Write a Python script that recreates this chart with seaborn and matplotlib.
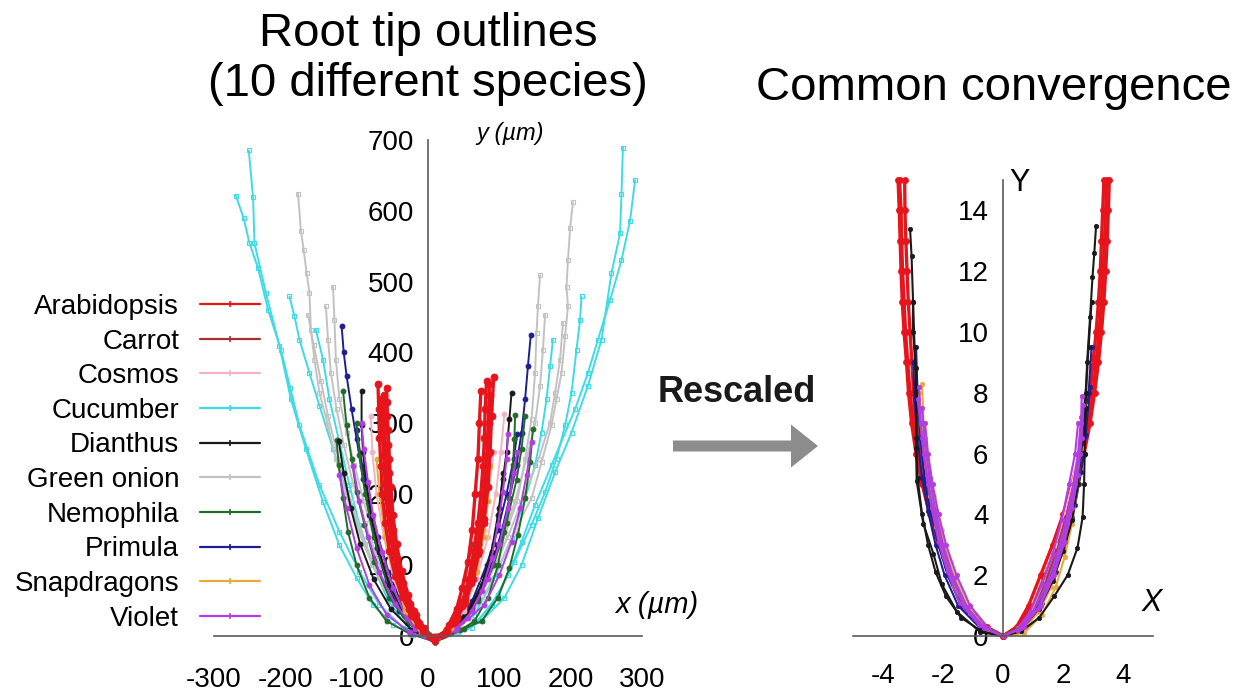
import numpy as np
import pandas as pd
import matplotlib
matplotlib.use("Agg")
import matplotlib.pyplot as plt
from matplotlib.lines import Line2D
from matplotlib.patches import FancyArrow
import seaborn as sns

sns.set_style("white")
plt.rcParams["font.family"] = ["Liberation Sans", "DejaVu Sans"]
plt.rcParams["axes.unicode_minus"] = False
plt.rcParams["text.color"] = "black"
plt.rcParams["xtick.labelcolor"] = "black"
plt.rcParams["ytick.labelcolor"] = "black"

# ---------------- data ----------------
species = ["Arabidopsis", "Carrot", "Cosmos", "Cucumber", "Dianthus",
           "Green onion", "Nemophila", "Primula", "Snapdragons", "Violet"]
colors = ["#e8141c", "#a3322f", "#f2b4c4", "#3fdbe4", "#1a1a1a",
          "#c2c2c2", "#236b2a", "#1f1f8f", "#e8a83a", "#b23ee0"]

x_ticks_um = [-300, -200, -100, 0, 100, 200, 300]
y_ticks_um = [0, 100, 200, 300, 400, 500, 600, 700]
x_ticks_scaled = [-4, -2, 0, 2, 4]
y_ticks_scaled = [0, 2, 4, 6, 8, 10, 12, 14]

# Root tip outlines in micrometres (each outline: left top -> tip -> right top)
arabidopsis_x = [
    [-70, -69, -68, -66, -64, -60, -54, -46, -36, -23, -7, 10, 25, 38, 48, 57, 64, 70, 74, 77, 79, 80, 82],
    [-58, -57, -56, -55, -53, -49, -43, -35, -25, -12, 5, 22, 35, 48, 60, 70, 78, 84, 87, 89, 92],
    [-62, -61, -60, -58, -55, -50, -43, -33, -20, -6, 8, 24, 38, 52, 63, 72, 78, 82, 84, 86, 87],
    [-66, -64, -62, -60, -57, -52, -45, -36, -26, -14, 2, 20, 30, 40, 48, 56, 62, 66, 70, 72, 74],
    [-58, -56, -54, -52, -49, -44, -37, -28, -17, -5, 8, 26, 40, 52, 62, 70, 76, 80, 83, 85, 86],
]
arabidopsis_y = [
    [355, 320, 280, 240, 200, 160, 120, 85, 55, 28, 8, -5, 5, 22, 48, 80, 120, 160, 200, 240, 280, 320, 360],
    [350, 310, 270, 230, 190, 150, 110, 75, 45, 18, -3, 3, 18, 42, 75, 115, 160, 210, 260, 310, 365],
    [340, 300, 260, 220, 180, 140, 100, 65, 35, 12, -4, 4, 20, 46, 80, 120, 165, 210, 255, 300, 340],
    [335, 295, 255, 215, 175, 135, 98, 65, 38, 16, 0, 2, 16, 38, 68, 105, 150, 200, 250, 300, 345],
    [330, 290, 250, 210, 170, 130, 92, 58, 30, 10, -2, 6, 25, 52, 88, 130, 175, 220, 270, 320, 355],
]
carrot_x = [
    [-55, -48, -38, -25, -8, 10, 28, 42, 60, 72, 80],
    [-45, -38, -28, -15, 10, 25, 40, 52, 62],
]
carrot_y = [
    [170, 120, 70, 30, 5, -8, 8, 30, 75, 130, 190],
    [130, 90, 50, 18, -8, 10, 40, 80, 130],
]
cosmos_x = [
    [-80, -78, -72, -62, -48, -28, -5, 10, 30, 50, 68, 84, 95, 102, 107],
    [-66, -62, -55, -44, -30, -12, 10, 30, 50, 66, 78, 86, 92],
]
cosmos_y = [
    [310, 260, 200, 140, 80, 30, 3, -8, 8, 35, 80, 140, 200, 260, 313],
    [280, 220, 160, 100, 50, 12, -8, 8, 40, 95, 150, 210, 260],
]
cucumber_x = [
    [-251, -245, -243, -227, -208, -192, -171, -147, -124, -100, -77, -49, -21, 10, 42, 75, 107, 131, 154, 178, 201, 224, 243, 257, 269, 271, 273],
    [-269, -258, -250, -238, -224, -206, -193, -180, -152, -124, -96, -68, -35, 10, 61, 89, 112, 131, 150, 173, 206, 224, 238, 255, 271, 283, 290],
    [-194, -187, -180, -166, -152, -133, -114, -96, -77, -54, -26, 10, 70, 98, 121, 145, 164, 180, 192, 201, 208, 213, 215],
    [-157, -147, -138, -124, -110, -96, -77, -56, -30, 10, 65, 93, 117, 136, 150, 159, 166, 171, 175],
]
cucumber_y = [
    [685, 619, 554, 484, 409, 334, 264, 189, 128, 82, 44, 16, 2, -8, 5, 21, 54, 100, 166, 231, 287, 353, 418, 512, 568, 624, 689],
    [621, 589, 554, 519, 460, 404, 350, 297, 213, 147, 91, 44, 12, -8, 12, 44, 86, 133, 185, 241, 320, 371, 418, 474, 530, 586, 643],
    [479, 451, 418, 371, 325, 264, 203, 147, 100, 54, 16, -8, 21, 58, 105, 157, 203, 250, 297, 343, 404, 446, 479],
    [432, 390, 334, 273, 213, 157, 100, 50, 15, -8, 30, 82, 138, 194, 241, 287, 334, 381, 418],
]
dianthus_x = [
    [-93, -93, -91, -86, -79, -68, -54, -35, -12, 10, 33, 56, 75, 89, 98, 105, 110, 114, 117],
    [-125, -118, -108, -95, -76, -52, -22, 10, 38, 62, 80, 92, 100, 105],
]
dianthus_y = [
    [346, 297, 259, 213, 166, 119, 72, 35, 8, -8, 9, 35, 72, 119, 171, 222, 259, 306, 343],
    [275, 230, 180, 130, 80, 38, 8, -8, 10, 40, 85, 130, 180, 230],
]
green_onion_x = [
    [-182, -178, -174, -170, -166, -164, -159, -152, -140, -129, -115, -98, -78, -55, -28, 10, 45, 75, 100, 122, 145, 159, 173, 180, 187, 192, 196, 194, 196, 199, 203],
    [-133, -131, -129, -124, -114, -103, -90, -75, -55, -32, 10, 50, 80, 105, 125, 136, 145, 150, 152, 154, 157],
    [-143, -140, -136, -128, -118, -105, -88, -68, -45, -20, 10, 48, 78, 102, 122, 138, 150, 157, 161, 164],
    [-168, -160, -150, -140, -125, -108, -88, -62, -32, 10, 52, 85, 112, 135, 155, 171, 178, 185, 189],
]
green_onion_y = [
    [624, 572, 544, 512, 484, 432, 390, 343, 297, 250, 200, 150, 100, 55, 18, -8, 15, 50, 100, 150, 194, 245, 297, 334, 371, 423, 465, 493, 530, 575, 612],
    [493, 446, 390, 334, 287, 241, 190, 135, 80, 35, -8, 30, 80, 135, 190, 250, 306, 371, 428, 465, 509],
    [465, 418, 371, 320, 270, 215, 160, 100, 50, 12, -8, 25, 75, 130, 190, 250, 300, 353, 404, 453],
    [453, 410, 360, 310, 250, 190, 130, 70, 25, -8, 25, 80, 140, 200, 250, 301, 343, 390, 442],
]
nemophila_x = [
    [-128, -125, -119, -112, -100, -82, -58, -25, 10, 45, 65, 84, 98, 107, 114, 119, 121, 122],
    [-119, -114, -107, -100, -89, -75, -54, -28, 10, 50, 75, 98, 114, 126, 136, 143, 147],
    [-100, -96, -88, -76, -58, -34, 10, 40, 70, 92, 110, 124, 131, 136],
]
nemophila_y = [
    [276, 241, 194, 147, 100, 54, 21, 3, -8, 8, 21, 54, 100, 147, 194, 241, 278, 312],
    [346, 297, 250, 203, 157, 105, 54, 18, -8, 10, 21, 54, 96, 143, 194, 245, 292],
    [300, 255, 200, 140, 80, 30, -8, 12, 50, 100, 160, 220, 264, 311],
]
primula_x = [
    [-121, -118, -114, -107, -100, -91, -82, -72, -58, -40, -15, 10, 47, 70, 89, 103, 114, 124, 131, 136, 140, 144],
    [-100, -92, -82, -70, -55, -36, -12, 10, 40, 62, 82, 98, 110, 120, 125],
]
primula_y = [
    [438, 400, 367, 320, 278, 222, 171, 124, 77, 35, 8, -8, 21, 54, 100, 147, 194, 241, 287, 334, 381, 425],
    [290, 240, 190, 140, 90, 45, 10, -8, 15, 50, 100, 150, 200, 250, 285],
]
snapdragons_x = [
    [-72, -68, -60, -48, -32, -10, 10, 32, 52, 68, 78, 84, 87],
    [-60, -55, -48, -38, -24, -5, 10, 28, 45, 60, 70, 76, 80],
]
snapdragons_y = [
    [250, 200, 140, 85, 35, 5, -8, 12, 45, 90, 140, 190, 240],
    [230, 180, 130, 80, 35, 5, -8, 8, 40, 90, 140, 190, 235],
]
violet_x = [
    [-93, -90, -84, -77, -65, -49, -30, -8, 10, 30, 56, 75, 89, 98, 105, 110, 112],
    [-124, -114, -100, -82, -58, -25, 10, 40, 79, 100, 117, 129, 138, 145],
    [-105, -96, -84, -68, -46, -18, 10, 38, 62, 84, 100, 112, 120, 125],
]
violet_y = [
    [301, 264, 217, 171, 119, 68, 26, 4, -8, 5, 26, 63, 110, 157, 203, 250, 285],
    [227, 180, 124, 72, 30, 5, -8, 10, 44, 86, 133, 180, 227, 273],
    [240, 190, 140, 90, 45, 10, -8, 8, 35, 80, 130, 180, 230, 260],
]

# Rescaled outlines (dimensionless X, Y)
arabidopsis_X = [
    [-3.45, -3.40, -3.38, -3.35, -3.30, -3.25, -3.18, -3.10, -3.00, -2.85, -2.65, -2.40, -2.10, -1.70, -1.20, -0.60, 0, 0.50, 1.00, 1.40, 1.80, 2.10, 2.40, 2.65, 2.85, 3.00, 3.10, 3.20, 3.28, 3.33, 3.38, 3.42, 3.45],
    [-3.28, -3.27, -3.24, -3.20, -3.16, -3.10, -3.04, -2.98, -2.92, -2.78, -2.58, -2.35, -2.05, -1.65, -1.15, -0.55, 0, 0.45, 0.85, 1.25, 1.65, 2.00, 2.30, 2.55, 2.75, 2.90, 3.00, 3.10, 3.18, 3.24, 3.28, 3.32, 3.36],
    [-3.50, -3.46, -3.43, -3.40, -3.36, -3.30, -3.22, -3.15, -3.05, -2.90, -2.70, -2.45, -2.15, -1.75, -1.25, -0.62, 0, 0.55, 1.05, 1.50, 1.90, 2.20, 2.48, 2.70, 2.90, 3.05, 3.18, 3.28, 3.36, 3.42, 3.47, 3.51, 3.54],
]
arabidopsis_Y = [
    [15.0, 14, 13, 12, 11, 10, 9, 8, 7, 6, 5, 4, 3, 2, 1, 0.3, 0, 0.3, 1, 2, 3, 4, 5, 6, 7, 8, 9, 10, 11, 12, 13, 14, 15.0],
    [15.0, 14, 13, 12, 11, 10, 9, 8, 7, 6, 5, 4, 3, 2, 1, 0.3, 0, 0.3, 1, 2, 3, 4, 5, 6, 7, 8, 9, 10, 11, 12, 13, 14, 15.0],
    [15.0, 14, 13, 12, 11, 10, 9, 8, 7, 6, 5, 4, 3, 2, 1, 0.3, 0, 0.3, 1, 2, 3, 4, 5, 6, 7, 8, 9, 10, 11, 12, 13, 14, 15.0],
]
carrot_X = [[-2.9, -2.75, -2.55, -2.3, -2.0, -1.65, -1.15, -0.55, 0, 0.5, 1.0, 1.4, 1.8, 2.1, 2.35, 2.55, 2.65]]
carrot_Y = [[7.5, 6, 4.8, 3.7, 2.6, 1.7, 0.8, 0.2, 0, 0.2, 0.8, 1.7, 2.8, 3.9, 5, 6.2, 7.5]]
cosmos_X = [[-3.0, -2.9, -2.75, -2.55, -2.3, -2.0, -1.6, -1.1, -0.5, 0, 0.5, 1.0, 1.35, 1.75, 2.05, 2.3, 2.5, 2.7, 2.85]]
cosmos_Y = [[9.0, 7.5, 6, 4.8, 3.7, 2.6, 1.6, 0.8, 0.2, 0, 0.2, 0.9, 1.8, 3, 4, 5, 6, 7.5, 9.0]]
cucumber_X = [[-2.6, -2.45, -2.25, -2.0, -1.7, -1.25, -0.6, 0, 0.5, 1.0, 1.45, 1.85, 2.15, 2.4, 2.6]]
cucumber_Y = [[6.5, 5.0, 4, 3, 2, 1, 0.25, 0, 0.25, 0.8, 1.8, 3, 4, 5, 6.3]]
dianthus_X = [
    [-3.1, -3.05, -3.0, -3.0, -2.9, -2.88, -2.9, -2.88, -2.66, -2.32, -2.04, -1.54, -0.76, 0, 0.6, 1.2, 1.7, 2.15, 2.48, 2.65, 2.7, 2.72, 2.75, 2.8, 2.9, 2.98, 3.04, 3.1],
    [-3.0, -2.95, -2.9, -2.9, -2.85, -2.7, -2.5, -2.25, -1.9, -1.4, -0.7, 0, 0.6, 1.2, 1.65, 2.0, 2.3, 2.5, 2.65, 2.75, 2.85, 2.95],
]
dianthus_Y = [
    [13.4, 12.5, 11, 10, 8.8, 7.5, 6.2, 5.1, 3.7, 2.7, 1.7, 0.8, 0.13, 0, 0.15, 0.6, 1.3, 2.0, 2.9, 3.9, 5, 6, 7.5, 9, 10.5, 11.8, 12.6, 13.5],
    [11.0, 9.5, 8, 6.5, 5.2, 4.0, 3.0, 2.1, 1.3, 0.6, 0.15, 0, 0.2, 0.9, 1.8, 2.8, 3.8, 5, 6.5, 8, 9.5, 11.0],
]
green_onion_X = [[-2.75, -2.5, -2.3, -2.05, -1.75, -1.35, -0.9, -0.4, 0, 0.4, 0.9, 1.35, 1.75, 2.1, 2.4, 2.6]]
green_onion_Y = [[7.0, 5.5, 4.6, 3.5, 2.4, 1.4, 0.6, 0.15, 0, 0.1, 0.5, 1.3, 2.4, 3.6, 5, 6.5]]
nemophila_X = [
    [-2.75, -2.65, -2.5, -2.3, -2.05, -1.75, -1.3, -0.65, 0, 0.55, 1.1, 1.5, 1.9, 2.2, 2.45, 2.6, 2.7],
    [-2.85, -2.75, -2.6, -2.42, -2.2, -1.9, -1.5, -0.9, 0, 0.65, 1.2, 1.65, 2.0, 2.3, 2.52, 2.66, 2.75],
]
nemophila_Y = [
    [7.5, 6.2, 5, 4, 3, 2, 1, 0.25, 0, 0.25, 0.9, 1.8, 3, 4, 5, 6.2, 7.5],
    [7.6, 6.5, 5.3, 4.3, 3.3, 2.3, 1.3, 0.5, 0, 0.35, 1.0, 1.9, 2.9, 3.9, 5.0, 6.2, 7.4],
]
primula_X = [
    [-2.9, -2.85, -2.75, -2.6, -2.4, -2.15, -1.85, -1.4, -0.7, 0, 0.6, 1.2, 1.6, 1.95, 2.25, 2.5, 2.7, 2.85, 2.95],
    [-3.0, -2.95, -2.85, -2.7, -2.5, -2.25, -1.95, -1.5, -0.8, 0, 0.7, 1.3, 1.75, 2.1, 2.4, 2.6, 2.75, 2.9],
]
primula_Y = [
    [9.5, 8, 6.5, 5, 4, 3, 2, 1, 0.25, 0, 0.25, 1, 2, 3, 4, 5, 6.5, 8, 9.5],
    [9.0, 7.8, 6.5, 5.2, 4.1, 3.0, 2.0, 1.0, 0.3, 0, 0.3, 1.1, 2.1, 3.2, 4.3, 5.4, 6.6, 8.2],
]
snapdragons_X = [
    [-2.7, -2.65, -2.55, -2.4, -2.2, -1.95, -1.65, -1.2, -0.6, 0, 0.7, 1.3, 1.75, 2.05, 2.3, 2.5, 2.62, 2.7],
    [-2.8, -2.7, -2.58, -2.42, -2.22, -1.98, -1.62, -1.1, -0.5, 0, 0.6, 1.2, 1.6, 1.95, 2.25, 2.45, 2.6, 2.72],
]
snapdragons_Y = [
    [8.3, 7, 6, 5, 4, 3, 2, 1, 0.25, 0, 0.1, 0.7, 1.6, 2.6, 3.7, 5, 6.2, 7.9],
    [8.0, 6.8, 5.6, 4.6, 3.6, 2.6, 1.6, 0.75, 0.15, 0, 0.15, 0.8, 1.6, 2.7, 3.9, 5, 6.2, 7.6],
]
violet_X = [
    [-2.8, -2.75, -2.65, -2.5, -2.3, -2.05, -1.75, -1.3, -0.65, 0, 0.6, 1.15, 1.6, 1.95, 2.2, 2.4, 2.55, 2.6, 2.62],
    [-2.7, -2.6, -2.45, -2.25, -2.0, -1.65, -1.2, -0.6, 0, 0.5, 1.0, 1.45, 1.8, 2.1, 2.35, 2.5, 2.6],
    [-2.85, -2.7, -2.55, -2.38, -2.15, -1.85, -1.45, -0.8, 0, 0.7, 1.25, 1.7, 2.05, 2.3, 2.5, 2.62, 2.68],
    [-2.6, -2.5, -2.35, -2.15, -1.9, -1.55, -1.1, -0.5, 0, 0.45, 0.9, 1.3, 1.65, 1.95, 2.2, 2.4, 2.5],
]
violet_Y = [
    [8.2, 7, 6, 5, 4, 3, 2, 1, 0.25, 0, 0.25, 0.9, 1.9, 3, 4, 5, 6, 7, 7.9],
    [7.5, 6.3, 5.2, 4.1, 3, 1.9, 0.95, 0.25, 0, 0.2, 0.8, 1.7, 2.7, 3.8, 5, 6, 7.2],
    [7.8, 6.5, 5.3, 4.2, 3.1, 2.1, 1.1, 0.35, 0, 0.3, 1.0, 2.0, 3.1, 4.2, 5.3, 6.5, 7.6],
    [7.0, 6.0, 5.0, 4.0, 3.0, 2.0, 1.0, 0.25, 0, 0.2, 0.8, 1.7, 2.7, 3.8, 5, 6, 7.0],
]

raw = {
    "Arabidopsis": (arabidopsis_x, arabidopsis_y, arabidopsis_X, arabidopsis_Y),
    "Carrot": (carrot_x, carrot_y, carrot_X, carrot_Y),
    "Cosmos": (cosmos_x, cosmos_y, cosmos_X, cosmos_Y),
    "Cucumber": (cucumber_x, cucumber_y, cucumber_X, cucumber_Y),
    "Dianthus": (dianthus_x, dianthus_y, dianthus_X, dianthus_Y),
    "Green onion": (green_onion_x, green_onion_y, green_onion_X, green_onion_Y),
    "Nemophila": (nemophila_x, nemophila_y, nemophila_X, nemophila_Y),
    "Primula": (primula_x, primula_y, primula_X, primula_Y),
    "Snapdragons": (snapdragons_x, snapdragons_y, snapdragons_X, snapdragons_Y),
    "Violet": (violet_x, violet_y, violet_X, violet_Y),
}


def long_table(which):
    rows = []
    for sp, data in raw.items():
        xs, ys = (data[0], data[1]) if which == "um" else (data[2], data[3])
        for k, (xx, yy) in enumerate(zip(xs, ys)):
            for i, (a, b) in enumerate(zip(xx, yy)):
                rows.append((sp, f"{sp}-{k}", i, a, b))
    return pd.DataFrame(rows, columns=["species", "outline", "order", "x", "y"])


df_um = long_table("um")
df_sc = long_table("scaled")
palette = dict(zip(species, colors))

# ---------------- figure ----------------
W, H = 1254, 691
fig = plt.figure(figsize=(W / 100, H / 100), dpi=100)

bg = fig.add_axes([0, 0, 1, 1])
bg.set_xlim(0, W)
bg.set_ylim(H, 0)
bg.axis("off")

axL = fig.add_axes([0.1477, 0.0488, 0.3872, 0.7797])
axR = fig.add_axes([0.6683, 0.0356, 0.2632, 0.7479])
for ax in (axL, axR):
    ax.patch.set_alpha(0)

draw_left = ["Cucumber", "Green onion", "Primula", "Nemophila", "Dianthus",
             "Cosmos", "Violet", "Snapdragons", "Carrot", "Arabidopsis"]
draw_right = ["Arabidopsis", "Cucumber", "Green onion", "Cosmos", "Carrot",
              "Nemophila", "Primula", "Snapdragons", "Dianthus", "Violet"]

hollow = {"Green onion", "Cucumber"}

for sp in draw_left:
    sub = df_um[df_um.species == sp]
    c = palette[sp]
    lw = 2.4 if sp == "Arabidopsis" else 1.4
    ms = 4.8 if sp == "Arabidopsis" else 3.4
    mk = "s" if sp in hollow else "o"
    sns.lineplot(data=sub, x="x", y="y", units="outline", estimator=None,
                 sort=False, color=c, lw=lw, marker=mk, ms=ms,
                 markeredgecolor=c, markeredgewidth=0.8,
                 markerfacecolor=("none" if sp in hollow else c),
                 ax=axL, legend=False)

for sp in draw_right:
    sub = df_sc[df_sc.species == sp]
    c = palette[sp]
    lw = 2.4 if sp == "Arabidopsis" else 1.5
    ms = 4.4 if sp == "Arabidopsis" else 3.2
    sns.lineplot(data=sub, x="x", y="y", units="outline", estimator=None,
                 sort=False, color=c, lw=lw, marker="o", ms=ms,
                 markeredgecolor=c, markeredgewidth=0.5,
                 ax=axR, legend=False)

axis_col = "#5a5a5a"
for ax in (axL, axR):
    sns.despine(ax=ax)
    ax.spines["left"].set_position(("data", 0))
    ax.spines["bottom"].set_position(("data", 0))
    for s in ("left", "bottom"):
        ax.spines[s].set_color(axis_col)
        ax.spines[s].set_linewidth(1.2)
    ax.set_xlabel("")
    ax.set_ylabel("")
    ax.tick_params(axis="x", direction="inout", length=9, width=1.1,
                   color=axis_col, labelsize=20, pad=18, labelcolor="black")
    ax.tick_params(axis="y", direction="out", length=7, width=1.1,
                   color=axis_col, labelsize=20, pad=3, labelcolor="black")

axL.set_xlim(-340, 340)
axL.set_ylim(-30, 730)
axL.set_xticks(x_ticks_um)
axL.set_yticks(y_ticks_um)
axL.spines["bottom"].set_bounds(-300, 300)
axL.spines["left"].set_bounds(0, 700)

axR.set_xlim(-5.5, 5.5)
axR.set_ylim(-1, 16)
axR.set_xticks(x_ticks_scaled)
axR.set_yticks(y_ticks_scaled)
axR.spines["bottom"].set_bounds(-5, 5)
axR.spines["left"].set_bounds(0, 15)
axR.tick_params(axis="x", pad=15)
axR.tick_params(axis="y", direction="inout", length=9, pad=6)

axL.text(68, 709, "y (µm)", fontsize=17, style="italic", ha="left", va="center")
axL.text(262, 44, "x (µm)", fontsize=21, style="italic", ha="left", va="center")
axR.text(0.22, 14.9, "Y", fontsize=22, ha="left", va="center")
axR.text(4.97, 1.08, "X", fontsize=22, style="italic", ha="center", va="center")

# titles and annotations
bg.text(428, 34, "Root tip outlines", fontsize=34, ha="center", va="center")
bg.text(428, 84, "(10 different species)", fontsize=34, ha="center", va="center")
bg.text(994, 88, "Common convergence", fontsize=34, ha="center", va="center")
bg.text(737, 392, "Rescaled", fontsize=26, fontweight="bold", ha="center",
        va="center", color="#1a1a1a")
bg.add_patch(FancyArrow(673, 446, 118, 0, width=11, head_width=43,
                        head_length=27, length_includes_head=False,
                        color="#8c8c8c", lw=0))

handles = [Line2D([], [], color=palette[s], lw=1.6, marker="|", ms=4,
                  mew=1.2) for s in species]
fig.legend(handles, species, loc="upper right",
           bbox_to_anchor=(260 / W, 1 - 294 / H), frameon=False,
           markerfirst=False, fontsize=20, handlelength=2.16,
           handletextpad=0.75, labelspacing=0.31, borderpad=0,
           borderaxespad=0)

fig.savefig("out.png", dpi=100)
